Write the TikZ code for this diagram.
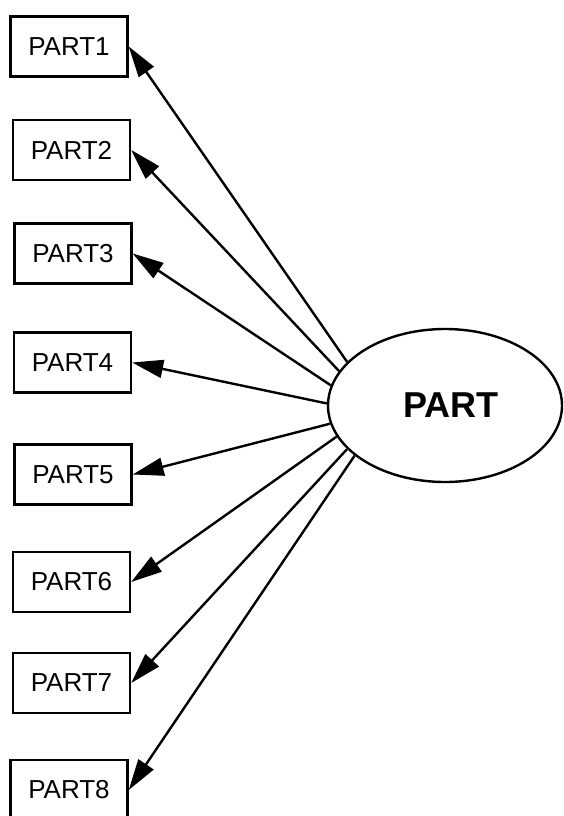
\documentclass[tikz,border=0pt]{standalone}
\usepackage{fontspec}
\setmainfont{Liberation Sans}
\usetikzlibrary{shapes.geometric,arrows.meta}
\begin{document}
\begin{tikzpicture}[x=1pt,y=-1pt,
  partbox/.style={draw,line width=2.4pt,minimum width=117pt,minimum height=60pt,inner sep=0pt,font=\fontsize{26}{30}\selectfont},
  centre/.style={draw,ellipse,line width=2.4pt,minimum width=234pt,minimum height=153pt,inner sep=0pt,font=\fontsize{36}{40}\selectfont\bfseries},
  link/.style={line width=2.4pt,-{Triangle[length=31pt,width=18pt]}}]
\useasboundingbox (0,0) rectangle (564,816);
\fill[white] (0,0) rectangle (564,816);
\node[partbox] (p1) at (69,46.5) {PART1};
\node[partbox] (p2) at (71.5,150) {PART2};
\node[partbox] (p3) at (73,253.5) {PART3};
\node[partbox] (p4) at (72.5,362.5) {PART4};
\node[partbox] (p5) at (73,474.5) {PART5};
\node[partbox] (p6) at (71.5,582) {PART6};
\node[partbox] (p7) at (71.5,683) {PART7};
\node[partbox] (p8) at (69,790) {PART8};
\node[centre] (e) at (445,405.5) {\hspace*{12pt}PART};
\draw[link] (e.156.1) -- (p1.east);
\draw[link] (e.162.8) -- (p2.east);
\draw[link] (e.170.4) -- (p3.east);
\draw[link] (e.179.3) -- (p4.east);
\draw[link] (e.189) -- (p5.east);
\draw[link] (e.196.5) -- (p6.east);
\draw[link] (e.204) -- (p7.east);
\draw[link] (e.209.7) -- (p8.east);
\end{tikzpicture}
\end{document}
